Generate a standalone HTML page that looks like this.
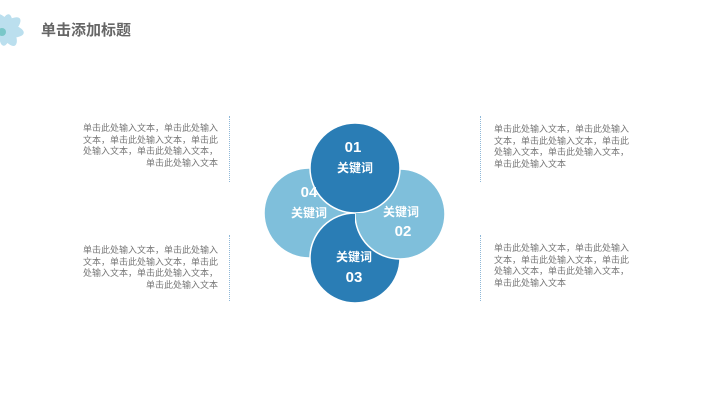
<!DOCTYPE html>
<html><head><meta charset="utf-8"><style>
body{margin:0;width:721px;height:405px;background:#fff;position:relative;overflow:hidden;font-family:"Liberation Sans","Noto Sans CJK SC",sans-serif}
.t{position:absolute;font-size:9px;line-height:11.5px;color:#777;width:140px}
.l{text-align:right;text-align-last:right}
.v{position:absolute;width:0;border-left:1px dotted #8fb8d8;height:66px}
</style></head><body>
<svg width="40" height="60" style="position:absolute;left:0;top:0">
<g fill="#8fcbe4" opacity="0.6">
<ellipse cx="6" cy="30" rx="18" ry="7" transform="rotate(-40 6 30)"/>
<ellipse cx="6" cy="30" rx="18" ry="7" transform="rotate(10 6 30)"/>
<ellipse cx="6" cy="30" rx="18" ry="7" transform="rotate(60 6 30)"/>
<ellipse cx="6" cy="30" rx="16" ry="6" transform="rotate(-80 6 30)"/>
</g><circle cx="2" cy="32" r="4" fill="#5dbcb8" opacity="0.7"/></svg>
<div style="position:absolute;left:41px;top:19px;font-size:15px;font-weight:bold;color:#666">单击添加标题</div>
<div class="t l" style="left:78px;top:123px">单击此处输入文本，单击此处输入文本，单击此处输入文本，单击此处输入文本，单击此处输入文本，单击此处输入文本</div>
<div class="t l" style="left:78px;top:245px">单击此处输入文本，单击此处输入文本，单击此处输入文本，单击此处输入文本，单击此处输入文本，单击此处输入文本</div>
<div class="t" style="left:494px;top:124px">单击此处输入文本，单击此处输入文本，单击此处输入文本，单击此处输入文本，单击此处输入文本，单击此处输入文本</div>
<div class="t" style="left:494px;top:243px">单击此处输入文本，单击此处输入文本，单击此处输入文本，单击此处输入文本，单击此处输入文本，单击此处输入文本</div>
<div class="v" style="left:229px;top:116px"></div>
<div class="v" style="left:229px;top:235px"></div>
<div class="v" style="left:480px;top:116px"></div>
<div class="v" style="left:480px;top:235px"></div>
<svg width="721" height="405" style="position:absolute;left:0;top:0">
<defs><clipPath id="c1"><polygon points="355,213 420,213 420,300 355,300"/></clipPath></defs>
<g stroke="#fff" stroke-width="1.5">
<circle cx="400" cy="214" r="45" fill="#7fbfdb"/>
<circle cx="309" cy="213" r="45" fill="#7fbfdb"/>
<circle cx="355" cy="258" r="45" fill="#2a7db5"/>
<circle cx="355" cy="168" r="45" fill="#2a7db5"/>
<circle cx="400" cy="214" r="45" fill="#7fbfdb" clip-path="url(#c1)"/>
</g>
<g fill="#fff" font-weight="bold" text-anchor="middle" font-family="Liberation Sans,Noto Sans CJK SC,sans-serif">
<text x="353" y="152" font-size="15">01</text><text x="355" y="172" font-size="12">关键词</text>
<text x="309" y="197" font-size="15">04</text><text x="309" y="217" font-size="12">关键词</text>
<text x="401" y="216" font-size="12">关键词</text><text x="403" y="236" font-size="15">02</text>
<text x="354" y="261" font-size="12">关键词</text><text x="354" y="282" font-size="15">03</text>
</g></svg>
</body></html>
